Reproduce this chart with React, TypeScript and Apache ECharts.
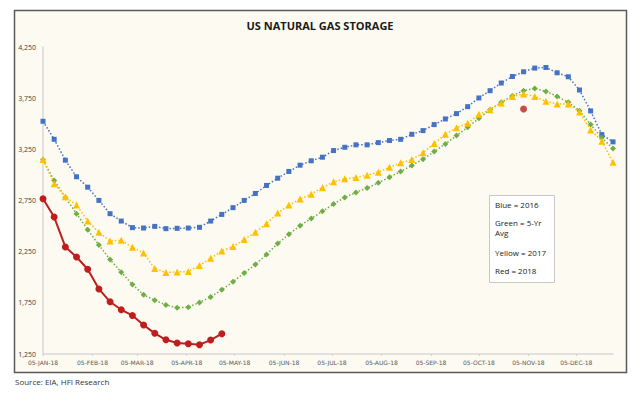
import React, { useEffect, useRef } from "react";
import * as echarts from "echarts";

// ---- data ----
const startDate = "2018-01-05";
const endDate = "2018-12-28";
const monthNames = ["JAN", "FEB", "MAR", "APR", "MAY", "JUN", "JUL", "AUG", "SEP", "OCT", "NOV", "DEC"];

const blue2016 = [
  3524, 3348, 3144, 2982, 2880, 2751, 2621, 2549, 2485, 2481,
  2497, 2475, 2478, 2481, 2488, 2549, 2614, 2680, 2751, 2819,
  2897, 2968, 3034, 3095, 3138, 3173, 3238, 3270, 3294, 3294,
  3316, 3336, 3348, 3397, 3433, 3492, 3547, 3599, 3667, 3752,
  3823, 3898, 3962, 4008, 4044, 4050, 3998, 3959, 3830, 3625,
  3394, 3323,
];
const green5yr = [
  3147, 2946, 2780, 2621, 2465, 2315, 2173, 2049, 1929, 1828,
  1776, 1730, 1701, 1708, 1754, 1808, 1877, 1955, 2042, 2124,
  2222, 2329, 2420, 2504, 2575, 2644, 2715, 2780, 2829, 2871,
  2923, 2978, 3034, 3092, 3153, 3228, 3303, 3384, 3465, 3553,
  3638, 3709, 3774, 3823, 3845, 3816, 3767, 3709, 3628, 3492,
  3362, 3258,
];
const yellow2017 = [
  3150, 2914, 2787, 2705, 2549, 2439, 2354, 2361, 2293, 2237,
  2085, 2046, 2052, 2056, 2114, 2186, 2257, 2300, 2368, 2439,
  2524, 2627, 2705, 2764, 2812, 2875, 2933, 2962, 2975, 2997,
  3027, 3075, 3118, 3150, 3216, 3306, 3397, 3462, 3504, 3592,
  3638, 3703, 3767, 3791, 3767, 3719, 3693, 3693, 3615, 3440,
  3329, 3124,
];
const red2018 = [
  2767, 2588, 2296, 2198, 2078, 1886, 1760, 1682, 1627, 1533,
  1452, 1389, 1357, 1350, 1341, 1386, 1448,
];
const redNovDate = "2018-11-02";
const redNovValue = 3645;

const yTickLabels = ["1,250", "1,750", "2,250", "2,750", "3,250", "3,750", "4,250"];
const legendLines = ["Blue = 2016", "Green = 5-Yr", "Avg", "Yellow = 2017", "Red = 2018"];

// ---- calendar helpers (axis categories) ----
function isoOf(t: number) {
  const d = new Date(t);
  const m = String(d.getUTCMonth() + 1).padStart(2, "0");
  const day = String(d.getUTCDate()).padStart(2, "0");
  return `${d.getUTCFullYear()}-${m}-${day}`;
}
function buildDays(): string[] {
  const out: string[] = [];
  const s = Date.parse(startDate + "T00:00:00Z");
  const e = Date.parse(endDate + "T00:00:00Z");
  for (let t = s; t <= e; t += 86400000) out.push(isoOf(t));
  return out;
}
const days = buildDays();
const weeks = days.filter((_, i) => i % 7 === 0);

function fmtDate(v: string) {
  const [y, m, d] = v.split("-");
  return `${d}-${monthNames[Number(m) - 1]}-${y.slice(2)}`;
}

export default function App() {
  const ref = useRef<HTMLDivElement>(null);
  useEffect(() => {
    if (!ref.current) return;
    const chart = echarts.init(ref.current, undefined, { renderer: "svg" });
    const isMonthTick = (_i: number, v: string) => v.endsWith("-05");
    const legendTop = [204, 222.5, 232.5, 252, 270.5];
    const lineCommon = { showSymbol: true, showAllSymbol: true };
    chart.setOption({
      animation: false,
      backgroundColor: "#ffffff",
      title: {
        text: "US NATURAL GAS STORAGE",
        left: "center",
        top: 15,
        textStyle: { fontFamily: "Open Sans", fontWeight: "bold", fontSize: 11, color: "#1a1a1a" },
      },
      grid: { left: 43, right: 27, top: 47, bottom: 42 },
      xAxis: {
        type: "category",
        data: days,
        boundaryGap: false,
        axisLine: { show: true, lineStyle: { color: "#d9d9d9", width: 1.5 } },
        axisTick: { show: true, interval: isMonthTick, length: 2, lineStyle: { color: "#d0d0d0" } },
        axisLabel: {
          interval: isMonthTick,
          formatter: (v: string) => fmtDate(v),
          fontFamily: "DejaVu Sans",
          fontSize: 6,
          color: "#595959",
          margin: 5,
        },
        splitLine: { show: false },
      },
      yAxis: {
        type: "value",
        min: 1250,
        max: 4250,
        interval: 250,
        axisLine: { show: true, lineStyle: { color: "#d9d9d9", width: 1.5 } },
        axisTick: { show: false },
        splitLine: { show: false },
        axisLabel: {
          fontFamily: "Open Sans",
          fontSize: 7,
          color: "#404040",
          margin: 7,
          formatter: (v: number) => {
            const idx = (Math.round(v) - 1250) / 500;
            return Number.isInteger(idx) ? yTickLabels[idx] ?? "" : "";
          },
        },
      },
      series: [
        {
          ...lineCommon,
          name: "2016",
          type: "line",
          data: weeks.map((d, i) => [d, blue2016[i]]),
          symbol: "rect",
          symbolSize: 5,
          itemStyle: { color: "#4472C4" },
          lineStyle: { color: "#4472C4", width: 1.5, type: [1.5, 2] },
          z: 3,
        },
        {
          ...lineCommon,
          name: "5-Yr Avg",
          type: "line",
          data: weeks.map((d, i) => [d, green5yr[i]]),
          symbol: "diamond",
          symbolSize: 6,
          itemStyle: { color: "#70AD47" },
          lineStyle: { color: "#70AD47", width: 1.5, type: [1.5, 2] },
          z: 4,
        },
        {
          ...lineCommon,
          name: "2017",
          type: "line",
          data: weeks.map((d, i) => [d, yellow2017[i]]),
          symbol: "triangle",
          symbolSize: 7,
          itemStyle: { color: "#FFC000" },
          lineStyle: { color: "#FFC000", width: 1.5, type: [1.5, 2] },
          z: 5,
        },
        {
          ...lineCommon,
          name: "2018",
          type: "line",
          data: red2018.map((v, i) => [weeks[i], v]),
          symbol: "circle",
          symbolSize: 7,
          itemStyle: { color: "#BE1E1E" },
          lineStyle: { color: "#BE1E1E", width: 2 },
          z: 6,
        },
        {
          name: "2018 Nov",
          type: "scatter",
          data: [[redNovDate, redNovValue]],
          symbol: "circle",
          symbolSize: 7,
          itemStyle: { color: "#BE1E1E" },
          z: 6,
        },
      ],
      graphic: [
        {
          type: "rect",
          z: -100,
          shape: { x: 14.5, y: 10.5, width: 612, height: 362 },
          style: { fill: "#FDFAF1", stroke: "#5a5a5a", lineWidth: 1.5 },
        },
        {
          type: "rect",
          z: 100,
          shape: { x: 489.5, y: 195.5, width: 65, height: 87 },
          style: { fill: "#ffffff", stroke: "#c8c8c8", lineWidth: 1 },
        },
        ...legendLines.map((t, i) => ({
          type: "text",
          z: 101,
          x: 495,
          y: legendTop[i],
          style: {
            text: t,
            fontFamily: "Open Sans",
            fontSize: 8,
            fill: "#222222",
            verticalAlign: "middle",
          },
        })),
        {
          type: "text",
          z: 101,
          x: 15,
          y: 381,
          style: {
            text: "Source: EIA, HFI Research",
            fontFamily: "Open Sans",
            fontSize: 8,
            fill: "#333333",
            verticalAlign: "middle",
          },
        },
      ],
    });
    return () => chart.dispose();
  }, []);
  return (
    <div
      ref={ref}
      style={{ position: "fixed", left: 0, top: 0, width: 640, height: 396 }}
    />
  );
}
